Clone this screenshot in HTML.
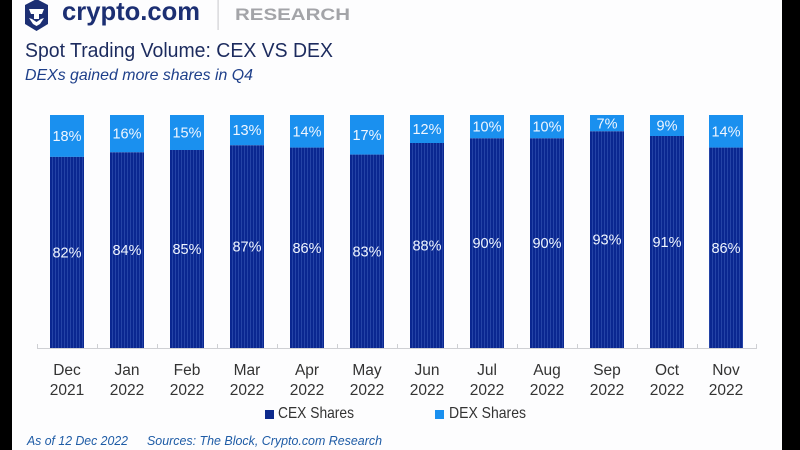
<!DOCTYPE html>
<html>
<head>
<meta charset="utf-8">
<style>
html,body{margin:0;padding:0;background:#000;}
body{width:800px;height:450px;overflow:hidden;}
svg{display:block;}
</style>
</head>
<body>
<svg width="800" height="450" viewBox="0 0 800 450" xmlns="http://www.w3.org/2000/svg">
  <defs>
    <pattern id="stripe" width="3" height="10" patternUnits="userSpaceOnUse" x="50">
      <rect width="3" height="10" fill="#0a2790"/>
      <rect x="2" width="1" height="10" fill="#2443a6"/>
    </pattern>
  </defs>
  <rect x="0" y="0" width="800" height="450" fill="#000"/>
  <rect x="12" y="0" width="770" height="450" fill="#fdfdfe"/>

  <!-- Logo -->
  <g>
    <polygon points="36.5,-1 48,5 48,24 36.5,31 25,24 25,5" fill="#1c2f73"/>
    <path d="M29,9 L44,9 L42,14 L39,14 L39,19 L34,19 L34,14 L31,14 Z" fill="#fff"/>
    <path d="M29,18 L33,24 L36.5,26 L40,24 L44,18 L41,19 L36.5,22 L32,19 Z" fill="#fff"/>
  </g>
  <text x="62" y="20" font-family="Liberation Sans, sans-serif" font-weight="bold" font-size="26" fill="#1c2f73" textLength="138" lengthAdjust="spacingAndGlyphs">crypto.com</text>
  <rect x="217.5" y="0" width="1.2" height="30" fill="#d0d0d4"/>
  <text x="235" y="20" font-family="Liberation Sans, sans-serif" font-weight="bold" font-size="17" fill="#a3a4a8" textLength="115" lengthAdjust="spacingAndGlyphs">RESEARCH</text>

  <!-- Titles -->
  <text x="25" y="57" font-family="Liberation Sans, sans-serif" font-size="20" fill="#1c2b5e" textLength="308" lengthAdjust="spacingAndGlyphs">Spot Trading Volume: CEX VS DEX</text>
  <text x="25" y="80" font-family="Liberation Sans, sans-serif" font-style="italic" font-size="16" fill="#1e3f8a" textLength="228" lengthAdjust="spacingAndGlyphs">DEXs gained more shares in Q4</text>

  <!-- Bars -->
  <g id="bars" font-family="Liberation Sans, sans-serif" font-size="14.5" fill="#eef3ff" text-anchor="middle">
    <!-- generated below statically -->
    <!-- Dec -->
    <rect x="50" y="115" width="34" height="41.9" fill="#1a90ef"/>
    <rect x="50" y="156.9" width="34" height="191.1" fill="url(#stripe)"/>
    <text x="67" y="141" fill="#f0f6ff">18%</text>
    <text x="67" y="257.5" fill="#f0f6ff">82%</text>
    <!-- Jan -->
    <rect x="110" y="115" width="34" height="37.3" fill="#1a90ef"/>
    <rect x="110" y="152.3" width="34" height="195.7" fill="url(#stripe)"/>
    <text x="127" y="138.7" fill="#f0f6ff">16%</text>
    <text x="127" y="255.2" fill="#f0f6ff">84%</text>
    <!-- Feb -->
    <rect x="170" y="115" width="34" height="35" fill="#1a90ef"/>
    <rect x="170" y="150" width="34" height="198" fill="url(#stripe)"/>
    <text x="187" y="137.5" fill="#f0f6ff">15%</text>
    <text x="187" y="254" fill="#f0f6ff">85%</text>
    <!-- Mar -->
    <rect x="230" y="115" width="34" height="30.3" fill="#1a90ef"/>
    <rect x="230" y="145.3" width="34" height="202.7" fill="url(#stripe)"/>
    <text x="247" y="135.2" fill="#f0f6ff">13%</text>
    <text x="247" y="251.7" fill="#f0f6ff">87%</text>
    <!-- Apr -->
    <rect x="290" y="115" width="34" height="32.6" fill="#1a90ef"/>
    <rect x="290" y="147.6" width="34" height="200.4" fill="url(#stripe)"/>
    <text x="307" y="136.3" fill="#f0f6ff">14%</text>
    <text x="307" y="252.8" fill="#f0f6ff">86%</text>
    <!-- May -->
    <rect x="350" y="115" width="34" height="39.6" fill="#1a90ef"/>
    <rect x="350" y="154.6" width="34" height="193.4" fill="url(#stripe)"/>
    <text x="367" y="139.8" fill="#f0f6ff">17%</text>
    <text x="367" y="256.3" fill="#f0f6ff">83%</text>
    <!-- Jun -->
    <rect x="410" y="115" width="34" height="28" fill="#1a90ef"/>
    <rect x="410" y="143" width="34" height="205" fill="url(#stripe)"/>
    <text x="427" y="134" fill="#f0f6ff">12%</text>
    <text x="427" y="250.5" fill="#f0f6ff">88%</text>
    <!-- Jul -->
    <rect x="470" y="115" width="34" height="23.3" fill="#1a90ef"/>
    <rect x="470" y="138.3" width="34" height="209.7" fill="url(#stripe)"/>
    <text x="487" y="131.7" fill="#f0f6ff">10%</text>
    <text x="487" y="248.2" fill="#f0f6ff">90%</text>
    <!-- Aug -->
    <rect x="530" y="115" width="34" height="23.3" fill="#1a90ef"/>
    <rect x="530" y="138.3" width="34" height="209.7" fill="url(#stripe)"/>
    <text x="547" y="131.7" fill="#f0f6ff">10%</text>
    <text x="547" y="248.2" fill="#f0f6ff">90%</text>
    <!-- Sep -->
    <rect x="590" y="115" width="34" height="16.3" fill="#1a90ef"/>
    <rect x="590" y="131.3" width="34" height="216.7" fill="url(#stripe)"/>
    <text x="607" y="128.5" fill="#f0f6ff">7%</text>
    <text x="607" y="244.7" fill="#f0f6ff">93%</text>
    <!-- Oct -->
    <rect x="650" y="115" width="34" height="21" fill="#1a90ef"/>
    <rect x="650" y="136" width="34" height="212" fill="url(#stripe)"/>
    <text x="667" y="130.5" fill="#f0f6ff">9%</text>
    <text x="667" y="247" fill="#f0f6ff">91%</text>
    <!-- Nov -->
    <rect x="709" y="115" width="34" height="32.6" fill="#1a90ef"/>
    <rect x="709" y="147.6" width="34" height="200.4" fill="url(#stripe)"/>
    <text x="726" y="136.3" fill="#f0f6ff">14%</text>
    <text x="726" y="252.8" fill="#f0f6ff">86%</text>
  </g>

  <!-- Axis -->
  <line x1="37" y1="348.5" x2="757" y2="348.5" stroke="#cfd0d4" stroke-width="1"/>
  <g stroke="#cfd0d4" stroke-width="1">
    <line x1="37.5" y1="344" x2="37.5" y2="349"/>
    <line x1="97.5" y1="344" x2="97.5" y2="349"/>
    <line x1="157.5" y1="344" x2="157.5" y2="349"/>
    <line x1="217.5" y1="344" x2="217.5" y2="349"/>
    <line x1="277.5" y1="344" x2="277.5" y2="349"/>
    <line x1="337.5" y1="344" x2="337.5" y2="349"/>
    <line x1="397.5" y1="344" x2="397.5" y2="349"/>
    <line x1="457.5" y1="344" x2="457.5" y2="349"/>
    <line x1="517.5" y1="344" x2="517.5" y2="349"/>
    <line x1="577.5" y1="344" x2="577.5" y2="349"/>
    <line x1="637.5" y1="344" x2="637.5" y2="349"/>
    <line x1="697.5" y1="344" x2="697.5" y2="349"/>
    <line x1="756.5" y1="344" x2="756.5" y2="349"/>
  </g>

  <!-- Category labels -->
  <g font-family="Liberation Sans, sans-serif" font-size="15.5" fill="#333" text-anchor="middle">
    <text x="67" y="375">Dec</text><text x="67" y="395">2021</text>
    <text x="127" y="375">Jan</text><text x="127" y="395">2022</text>
    <text x="187" y="375">Feb</text><text x="187" y="395">2022</text>
    <text x="247" y="375">Mar</text><text x="247" y="395">2022</text>
    <text x="307" y="375">Apr</text><text x="307" y="395">2022</text>
    <text x="367" y="375">May</text><text x="367" y="395">2022</text>
    <text x="427" y="375">Jun</text><text x="427" y="395">2022</text>
    <text x="487" y="375">Jul</text><text x="487" y="395">2022</text>
    <text x="547" y="375">Aug</text><text x="547" y="395">2022</text>
    <text x="607" y="375">Sep</text><text x="607" y="395">2022</text>
    <text x="667" y="375">Oct</text><text x="667" y="395">2022</text>
    <text x="726" y="375">Nov</text><text x="726" y="395">2022</text>
  </g>

  <!-- Legend -->
  <rect x="265" y="410" width="9" height="9" fill="#0d2a8c"/>
  <text x="278" y="418" font-family="Liberation Sans, sans-serif" font-size="16" fill="#333" textLength="76" lengthAdjust="spacingAndGlyphs">CEX Shares</text>
  <rect x="435" y="410" width="9" height="9" fill="#1a90ef"/>
  <text x="449" y="418" font-family="Liberation Sans, sans-serif" font-size="16" fill="#333" textLength="77" lengthAdjust="spacingAndGlyphs">DEX Shares</text>

  <!-- Footer -->
  <text x="27" y="445" font-family="Liberation Sans, sans-serif" font-style="italic" font-size="13" fill="#1f5ca6" textLength="101" lengthAdjust="spacingAndGlyphs">As of 12 Dec 2022</text>
  <text x="147" y="445" font-family="Liberation Sans, sans-serif" font-style="italic" font-size="13" fill="#1f5ca6" textLength="235" lengthAdjust="spacingAndGlyphs">Sources: The Block, Crypto.com Research</text>
</svg>
</body>
</html>
